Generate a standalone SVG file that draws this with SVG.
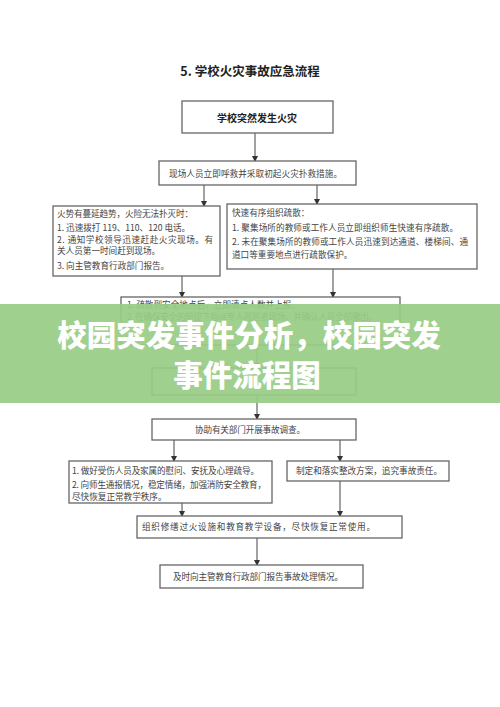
<svg xmlns="http://www.w3.org/2000/svg" width="500" height="707" viewBox="0 0 500 707">
<defs>
<marker id="ah" markerWidth="6" markerHeight="6" refX="5" refY="3" orient="auto" markerUnits="userSpaceOnUse"><path d="M0,0 L6,3 L0,6 Z" fill="#333"/></marker>
<style>
.box{fill:#fff;stroke:#666;stroke-width:1.3}
.t{font-family:"Noto Sans CJK SC","Liberation Serif",serif;font-size:8.6px;fill:#444}
.tb{font-family:"Noto Sans CJK SC","Liberation Sans",sans-serif;font-weight:700;fill:#222}
.c{stroke:#444;stroke-width:1;fill:none;marker-end:url(#ah)}
.ban{font-family:"Noto Sans CJK SC","Liberation Sans",sans-serif;font-weight:900;font-size:29.5px;fill:#fff;text-anchor:middle}
</style>
</defs>
<rect width="500" height="707" fill="#fff"/>
<text class="tb" x="250" y="76" font-size="12.5" text-anchor="middle">5. 学校火灾事故应急流程</text>

<g id="connectors">
<line class="c" x1="255" y1="133" x2="255" y2="161"/>
<line class="c" x1="204" y1="185" x2="204" y2="206"/>
<line class="c" x1="317" y1="185" x2="317" y2="204"/>
<line class="c" x1="182" y1="276" x2="182" y2="297"/>
<line class="c" x1="333" y1="269" x2="333" y2="297"/>
<line class="c" x1="257" y1="345" x2="257" y2="368"/>
<line class="c" x1="257" y1="395" x2="257" y2="419"/>
<line class="c" x1="174" y1="440" x2="174" y2="461"/>
<line class="c" x1="340" y1="440" x2="340" y2="461"/>
<line class="c" x1="182" y1="503" x2="182" y2="516"/>
<line class="c" x1="340" y1="481" x2="340" y2="516"/>
<line class="c" x1="257" y1="538" x2="257" y2="565"/>
</g>

<g id="n1"><rect class="box" x="182" y="101" width="151" height="32"/>
<text class="tb" x="257" y="121.5" font-size="10" text-anchor="middle">学校突然发生火灾</text></g>

<g id="n2"><rect class="box" x="159" y="161" width="197" height="24"/>
<text class="t" x="169" y="177" textLength="173">现场人员立即呼救并采取初起火灾扑救措施。</text></g>

<g id="n3"><rect class="box" x="53" y="206" width="167" height="70"/>
<text class="t" x="57" y="217" textLength="136">火势有蔓延趋势，火险无法扑灭时：</text>
<text class="t" x="57" y="231">1. 迅速拨打 119、110、120 电话。</text>
<text class="t" x="57" y="242.5" textLength="156">2. 通知学校领导迅速赶赴火灾现场。有</text>
<text class="t" x="57" y="254">关人员第一时间赶到现场。</text>
<text class="t" x="57" y="269">3. 向主管教育行政部门报告。</text></g>

<g id="n4"><rect class="box" x="227" y="204" width="250" height="65"/>
<text class="t" x="232" y="216">快速有序组织疏散：</text>
<text class="t" x="232" y="231" textLength="226">1. 聚集场所的教师或工作人员立即组织师生快速有序疏散。</text>
<text class="t" x="232" y="244.5" textLength="236">2. 未在聚集场所的教师或工作人员迅速到达通道、楼梯间、通</text>
<text class="t" x="232" y="258">道口等重要地点进行疏散保护。</text></g>

<g id="n5"><rect class="box" x="121" y="297" width="279" height="48"/>
<text class="t" x="127" y="308" textLength="173">1. 疏散到安全地点后，立即清点人数并上报。</text>
<text class="t" x="127" y="320" textLength="250">2. 在确保安全的前提下指派专人再巡查现场，并确认人员全部撤出。</text></g>

<g id="n6"><rect class="box" x="152" y="368" width="204" height="27"/></g>

<g id="banner">
<rect x="0" y="304" width="500" height="99" fill="#98cc85" fill-opacity="0.93"/>
<text class="ban" x="249" y="346">校园突发事件分析，校园突发</text>
<text class="ban" x="247" y="386">事件流程图</text>
</g>

<g id="n7"><rect class="box" x="152" y="419" width="204" height="21"/>
<text class="t" x="250" y="432.5" text-anchor="middle" textLength="110">协助有关部门开展事故调查。</text></g>

<g id="n8"><rect class="box" x="69" y="461" width="203" height="42"/>
<text class="t" x="72" y="474" textLength="187">1. 做好受伤人员及家属的慰问、安抚及心理疏导。</text>
<text class="t" x="72" y="488" textLength="194">2. 向师生通报情况，稳定情绪，加强消防安全教育，</text>
<text class="t" x="72" y="500">尽快恢复正常教学秩序。</text></g>

<g id="n9"><rect class="box" x="287" y="461" width="162" height="20"/>
<text class="t" x="296" y="474" textLength="146">制定和落实整改方案，追究事故责任。</text></g>

<g id="n10"><rect class="box" x="137" y="516" width="265" height="22"/>
<text class="t" x="142" y="530" textLength="233">组织修缮过火设施和教育教学设备，尽快恢复正常使用。</text></g>

<g id="n11"><rect class="box" x="160" y="565" width="203" height="23"/>
<text class="t" x="173" y="579.5" textLength="170">及时向主管教育行政部门报告事故处理情况。</text></g>
</svg>
